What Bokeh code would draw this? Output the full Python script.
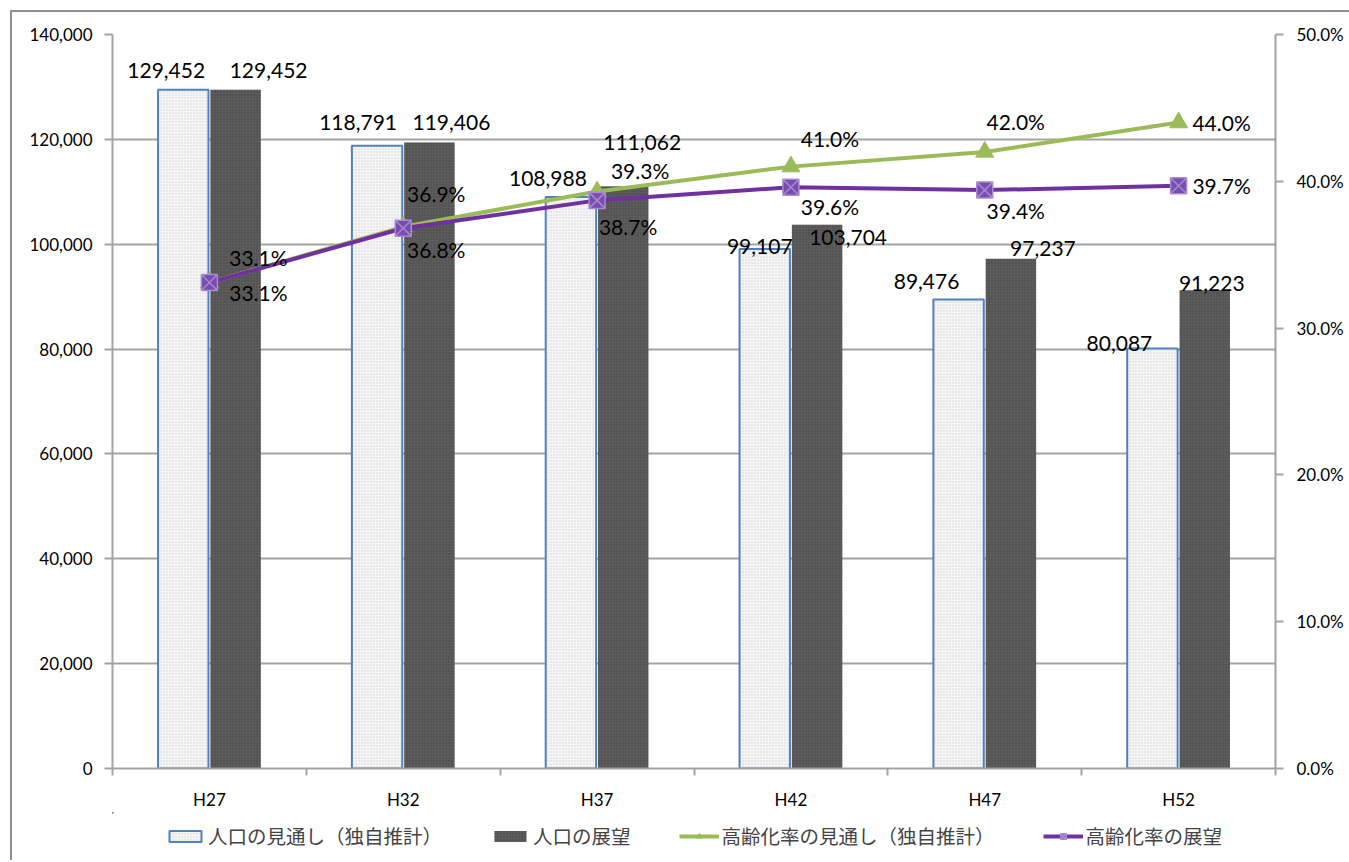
import numpy as np
from bokeh.plotting import figure
from bokeh.layouts import column
from bokeh.models import (ColumnDataSource, Range1d, LinearAxis, FixedTicker,
                          NumeralTickFormatter, PrintfTickFormatter, LabelSet,
                          Legend, LegendItem)
from bokeh.core.properties import value
from bokeh.embed import file_html
from bokeh.resources import INLINE

# ---------------- data ----------------
categories = ["H27", "H32", "H37", "H42", "H47", "H52"]
pop_own = [129452, 118791, 108988, 99107, 89476, 80087]          # 人口の見通し（独自推計）
pop_vision = [129452, 119406, 111062, 103704, 97237, 91223]      # 人口の展望
aging_own = [33.1, 36.9, 39.3, 41.0, 42.0, 44.0]                 # 高齢化率の見通し（独自推計）
aging_vision = [33.1, 36.8, 38.7, 39.6, 39.4, 39.7]              # 高齢化率の展望

series_names = ["人口の見通し（独自推計）", "人口の展望",
                "高齢化率の見通し（独自推計）", "高齢化率の展望"]

# label offsets (screen px, styling only)
own_dx = [-17, -19, -23, -5, -32, -33]
own_dy = [19, 23, 19, 2, 18, 5]
vis_dx = [33, 22, 19, 31, 32, 7]
vis_dy = [19, 20, 44, -13, 10, 7]
ag_own_dx = [49, 33, 43, 39, 31, 43]
ag_own_dy = [25, 33, 21, 28, 30, 0]
ag_vis_dx = [49, 33, 31, 39, 31, 43]
ag_vis_dy = [-10, -21, -26, -19, -20, 0]

# ---------------- styles ----------------
FONT = "Lato"
JP = "Noto Sans CJK JP"
GRID = "#a3a3a3"
GREEN = "#9bbb59"
PURPLE = "#7030a0"
BAR_W = 0.26
SHIFT = 0.135

OWN_BAR = dict(fill_color="#f5f5f5", line_color="#4f81bd", line_width=2,
               hatch_pattern="dot", hatch_color="#d4d4d4", hatch_scale=3, hatch_weight=1)
VIS_BAR = dict(fill_color="#5c5c5c", line_color=None,
               hatch_pattern="dot", hatch_color="#444444", hatch_scale=3, hatch_weight=1)
OWN_LINE = dict(line_color=GREEN, line_width=4)
OWN_MARK = dict(marker="triangle", size=18, fill_color=GREEN, line_color=GREEN)
VIS_LINE = dict(line_color=PURPLE, line_width=4)
VIS_MARK = dict(marker="square_x", size=16, fill_color="#7a4cb0",
                line_color="#a68bd0", line_width=1.5)

idx = np.arange(len(categories)) + 0.5

src = ColumnDataSource(dict(
    xc=idx,
    x_own=idx - SHIFT,
    x_vis=idx + SHIFT,
    pop_own=pop_own,
    pop_vision=pop_vision,
    aging_own=aging_own,
    aging_vision=aging_vision,
    t_own=[f"{v:,}" for v in pop_own],
    t_vis=[f"{v:,}" for v in pop_vision],
    t_ag_own=[f"{v:.1f}%" for v in aging_own],
    t_ag_vis=[f"{v:.1f}%" for v in aging_vision],
    own_dx=own_dx, own_dy=own_dy, vis_dx=vis_dx, vis_dy=vis_dy,
    ag_own_dx=ag_own_dx, ag_own_dy=ag_own_dy,
    ag_vis_dx=ag_vis_dx, ag_vis_dy=ag_vis_dy,
))


def draw_series(fig, yname=None):
    kw = {} if yname is None else {"y_range_name": yname}
    r1 = fig.vbar(x="x_own", top="pop_own", width=BAR_W, bottom=0, source=src, **OWN_BAR)
    r2 = fig.vbar(x="x_vis", top="pop_vision", width=BAR_W, bottom=0, source=src, **VIS_BAR)
    r3 = fig.line(x="xc", y="aging_own", source=src, **kw, **OWN_LINE)
    r4 = fig.scatter(x="xc", y="aging_own", source=src, **kw, **OWN_MARK)
    r5 = fig.line(x="xc", y="aging_vision", source=src, **kw, **VIS_LINE)
    r6 = fig.scatter(x="xc", y="aging_vision", source=src, **kw, **VIS_MARK)
    return r1, r2, r3, r4, r5, r6


p = figure(width=1337, height=800, output_backend="svg", toolbar_location=None,
           x_range=Range1d(0, len(categories)), y_range=Range1d(0, 140000),
           min_border_left=100, min_border_right=74, min_border_top=22,
           min_border_bottom=43, x_axis_location=None, y_axis_location=None)
p.extra_y_ranges = {"pct": Range1d(0, 50)}
p.outline_line_color = None
p.background_fill_color = "white"
p.border_fill_color = "white"

# axes
yl = LinearAxis(ticker=FixedTicker(ticks=list(range(0, 140001, 20000))),
                formatter=NumeralTickFormatter(format="0,0"))
yr = LinearAxis(y_range_name="pct", ticker=FixedTicker(ticks=list(range(0, 51, 10))),
                formatter=PrintfTickFormatter(format="%.1f%%"))
xb = LinearAxis(ticker=FixedTicker(ticks=list(idx), minor_ticks=list(range(len(categories) + 1))),
                major_label_overrides={float(x): c for x, c in zip(idx, categories)})
for ax in (yl, yr, xb):
    ax.axis_line_color = GRID
    ax.axis_line_width = 2
    ax.major_tick_line_color = GRID
    ax.major_tick_line_width = 2
    ax.major_tick_in = 0
    ax.minor_tick_in = 0
    ax.major_label_text_font = FONT
    ax.major_label_text_font_size = "17px"
    ax.major_label_text_color = "black"
yl.major_tick_out = 8
yl.minor_tick_out = 0
yl.major_label_standoff = 12
yr.major_tick_out = 8
yr.minor_tick_out = 0
yr.major_label_standoff = 13
xb.major_tick_out = 0
xb.minor_tick_out = 7
xb.minor_tick_line_color = GRID
xb.minor_tick_line_width = 2
xb.major_label_standoff = 13
p.add_layout(yl, "left")
p.add_layout(yr, "right")
p.add_layout(xb, "below")

p.xgrid.visible = False
p.ygrid.grid_line_color = GRID
p.ygrid.grid_line_width = 2
p.ygrid.ticker = yl.ticker

draw_series(p, "pct")

# labels
def labels(x, y, text, dx, dy, yname="default"):
    return LabelSet(x=x, y=y, text=text, x_offset=dx, y_offset=dy, source=src,
                    y_range_name=yname, text_font=value(FONT), text_font_size="21px",
                    text_color="black", text_align="center", text_baseline="middle")

p.add_layout(labels("x_own", "pop_own", "t_own", "own_dx", "own_dy"))
p.add_layout(labels("x_vis", "pop_vision", "t_vis", "vis_dx", "vis_dy"))
p.add_layout(labels("xc", "aging_own", "t_ag_own", "ag_own_dx", "ag_own_dy", "pct"))
p.add_layout(labels("xc", "aging_vision", "t_ag_vis", "ag_vis_dx", "ag_vis_dy", "pct"))

# legend strip: same series, ranges chosen so nothing but the legend shows
lg = figure(width=1337, height=48, output_backend="svg", toolbar_location=None,
            x_range=Range1d(10, 11), y_range=Range1d(-3, -2), min_border=0,
            x_axis_location=None, y_axis_location=None)
lg.outline_line_color = None
lg.xgrid.visible = False
lg.ygrid.visible = False
s1, s2, s3l, s3m, s4l, s4m = draw_series(lg)
legend = Legend(items=[
    LegendItem(label=series_names[0], renderers=[s1]),
    LegendItem(label=series_names[1], renderers=[s2]),
    LegendItem(label=series_names[2], renderers=[s3l, s3m]),
    LegendItem(label=series_names[3], renderers=[s4l, s4m]),
], orientation="horizontal", location=(53, 10), border_line_color=None,
   background_fill_alpha=0, label_text_font=JP, label_text_font_size="19.5px",
   glyph_width=40, glyph_height=14, label_standoff=3, spacing=48,
   padding=0, margin=0)
lg.add_layout(legend, "center")

layout = column(p, lg, spacing=0)
layout.styles = {"border-left": "2px solid #8f8f8f", "border-top": "2px solid #8f8f8f",
                 "margin-left": "10px", "margin-top": "10px"}

open("out.html", "w").write(file_html(layout, INLINE))
